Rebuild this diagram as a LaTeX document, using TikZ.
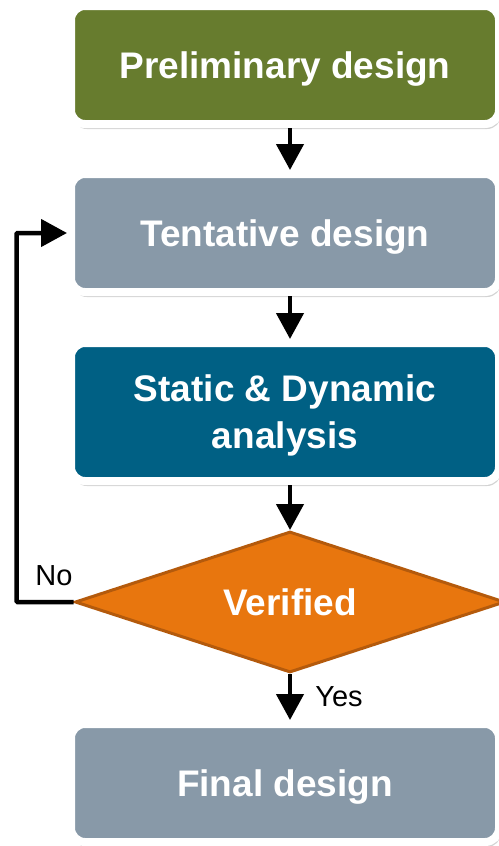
\documentclass[tikz,border=0pt]{standalone}
\usepackage{fontspec}
\setmainfont{Liberation Sans}
\usetikzlibrary{shapes.geometric,arrows.meta,shadows}

\definecolor{olivebox}{RGB}{103,124,46}
\definecolor{slatebox}{RGB}{136,153,168}
\definecolor{tealbox}{RGB}{0,96,132}
\definecolor{orangefill}{RGB}{232,118,14}
\definecolor{orangeline}{RGB}{180,90,12}

\begin{document}
\begin{tikzpicture}[x=1pt,y=-1pt,
    stepbox/.style={rectangle, rounded corners=14pt, draw=white, line width=8pt,
        minimum width=428pt, minimum height=118pt, text=white, align=center,
        text depth=0pt, font=\bfseries\fontsize{37}{47}\selectfont,
        drop shadow={shadow xshift=2pt, shadow yshift=-5pt, opacity=0.35}},
    decision/.style={diamond, draw=orangeline, line width=3pt, fill=orangefill,
        minimum width=430pt, minimum height=141pt, inner sep=0pt, aspect=3,
        text depth=0pt, text=white, font=\bfseries\fontsize{37}{47}\selectfont},
    flow/.style={-{Triangle[width=27pt,length=26pt]}, line width=4.5pt},
    answer/.style={font=\fontsize{29}{34}\selectfont}]
    \useasboundingbox (0,0) rectangle (498,846);
    \node[stepbox, fill=olivebox] (prelim) at (285,65) {Preliminary design};
    \node[stepbox, fill=slatebox] (tent) at (285,233) {Tentative design};
    \node[stepbox, fill=tealbox, minimum height=138pt] (analysis) at (285,412) {Static \& Dynamic\\analysis};
    \node[decision] (verify) at (290,602) {Verified};
    \node[stepbox, fill=slatebox] (final) at (285,783) {Final design};
    \node[answer] (no) at (54,576) {No};
    \node[answer] (yes) at (339,697) {Yes};

    \draw[flow] (prelim.south -| verify) -- (tent.north -| verify);
    \draw[flow] (tent.south -| verify) -- (analysis.north -| verify);
    \draw[flow] (analysis.south -| verify) -- (verify.north);
    \draw[flow] (verify.south) -- (final.north -| verify);
    \draw[flow, rounded corners=1pt] (verify.west) -- ++(-57,0) |- (tent.west);
\end{tikzpicture}
\end{document}
